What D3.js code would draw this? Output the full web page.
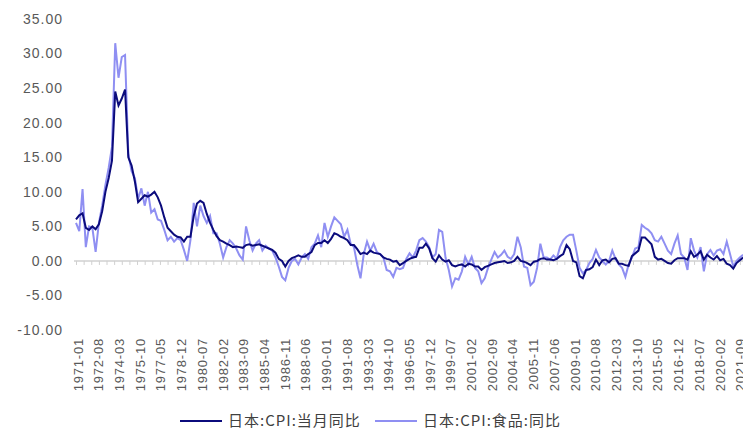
<!DOCTYPE html>
<html>
<head>
<meta charset="utf-8">
<script src="https://cdn.jsdelivr.net/npm/d3@7"></script>
<style>
  body { margin: 0; background: #fff; }
  .ylab { font-family: "Liberation Sans", Arial, sans-serif; font-size: 14px; fill: #595959; letter-spacing: 1px; }
  .xlab { font-family: "Liberation Sans", Arial, sans-serif; font-size: 13px; fill: #595959; letter-spacing: 0.8px; }
  .legend { font-family: "Noto Sans CJK SC", sans-serif; font-size: 15px; fill: #404040; letter-spacing: 1px; }
</style>
</head>
<body>
<div id="chart"></div>
<script>
// quarterly readings (Jan, Apr, Jul, Oct), starting 1971-01
var startYear = 1971;
var stepMonths = 3;

var cpiAll = [
  6.0, 6.6, 6.9, 4.8,   4.5, 5.0, 4.6, 5.3,   7.2, 10.0, 12.0, 14.5,
  24.5, 22.5, 23.5, 24.8,   15.0, 13.8, 11.5, 8.5,   9.0, 9.5, 9.3, 9.6,
  10.0, 9.2, 8.0, 6.3,   4.8, 4.3, 3.8, 3.5,   3.4, 2.8, 3.5, 3.5,
  6.5, 8.3, 8.7, 8.4,   6.8, 5.5, 4.5, 3.6,   3.0, 2.8, 2.5, 2.3,
  2.0, 2.1, 2.0, 1.9,   2.3, 2.4, 2.2, 2.3,   2.4, 2.2, 2.0, 1.8,
  1.6, 1.2, 0.3, 0.0,   -0.8, 0.0, 0.4, 0.6,   0.8, 0.6, 0.6, 1.0,
  1.3, 2.3, 2.6, 2.6,   3.0, 2.6, 3.2, 4.0,   3.8, 3.5, 3.3, 3.0,
  2.3, 2.3, 1.7, 1.0,   1.2, 1.0, 1.5, 1.2,   1.1, 1.0, 0.5, 0.3,
  0.2, -0.1, 0.0, -0.6,   -0.3, 0.0, 0.3, 0.5,   0.6, 1.9, 1.9, 2.5,
  1.8, 0.4, -0.1, 0.8,   0.2, -0.1, 0.1, -0.6,   -0.8, -0.6, -0.5, -0.8,
  -0.4, -0.5, -0.8, -0.8,   -1.3, -0.9, -0.7, -0.5,   -0.3, -0.2, -0.1, 0.0,
  -0.3, -0.2, 0.0, 0.6,   0.0, -0.1, -0.3, -0.6,   -0.1, 0.0, 0.3, 0.4,
  0.2, 0.2, 0.1, 0.3,   0.7, 1.0, 2.3, 1.7,   0.0, -0.2, -2.2, -2.5,
  -1.3, -1.2, -0.9, 0.2,   -0.6, 0.1, 0.2, -0.2,   0.3, 0.4, -0.4, -0.4,
  -0.6, -0.7, 0.7, 1.1,   1.5, 3.4, 3.4, 2.9,   2.4, 0.6, 0.2, 0.3,
  0.0, -0.3, -0.4, 0.1,   0.4, 0.4, 0.4, 0.2,   1.4, 0.6, 0.9, 1.4,
  0.2, 0.9, 0.5, 0.2,   0.7, 0.1, 0.3, -0.4,   -0.6, -1.1, -0.3, 0.1,
  0.5
];

var cpiFood = [
  5.5, 4.3, 10.4, 2.0,   5.0, 4.8, 1.3, 5.5,   8.0, 11.0, 13.5, 16.5,
  31.5, 26.5, 29.5, 29.8,   15.5, 13.0, 12.0, 9.0,   10.5, 8.0, 10.0, 7.0,
  7.5, 6.0, 5.8, 4.5,   3.0, 3.5, 2.8, 3.3,   3.0, 1.6, 0.0, 3.0,
  8.4, 5.0, 8.0, 6.5,   5.5, 6.5, 4.0, 4.0,   2.5, 0.5, 2.0, 3.0,
  2.5, 1.8, 0.8, 0.2,   5.0, 3.0, 1.5, 2.5,   3.0, 1.5, 2.2, 1.8,
  1.5, 0.5, -0.8, -2.3,   -2.8, -1.0, 0.0, 0.3,   -0.5, 0.5, 1.0, 0.3,
  2.0, 2.5, 3.7, 2.0,   5.5, 3.5, 5.0, 6.3,   5.8, 5.3, 3.5, 4.5,
  2.5, 2.0, -0.5, -2.5,   1.0, 2.8, 1.5, 2.5,   1.3, 1.0, 0.5, -1.3,
  -1.5, -2.3, -1.0, -1.2,   -1.0, 0.3, 1.1, 0.5,   1.5, 3.0, 3.3, 2.8,
  2.0, 0.5, 1.0, 4.5,   4.2, 0.5, -1.3, -3.7,   -2.5, -2.7, -1.5, 0.6,
  -0.5, 0.6, -1.0, -1.5,   -3.2, -2.5, -1.0, 0.2,   1.3, 0.5, 0.9, 1.5,
  0.6, 0.3, 1.0, 3.5,   2.0, -0.8, -1.0, -3.5,   -3.0, -1.0, 2.5, 0.5,
  0.5, 0.2, 0.8, 0.3,   2.0, 3.0, 3.5, 3.8,   3.8, 1.5, -1.0, -1.8,
  -1.3, -0.3, 0.3, 1.6,   0.5, 0.0, -0.5, 0.0,   1.5, 0.3, -0.5, -1.0,
  -2.3, -0.5, 0.5, 1.8,   2.0, 5.2, 4.8, 4.5,   4.0, 3.0, 2.8, 3.5,
  2.5, 1.5, 1.0, 2.5,   3.7, 1.0, 0.5, -1.3,   3.3, 1.5, 0.5, 2.0,
  -1.5, 1.0, 1.6, 0.8,   1.5, 1.7, 1.0, 2.8,   1.0, -0.8, 0.0, 0.5,
  0.9
];

var tickLabels = ['1971-01', '1972-08', '1974-03', '1975-10', '1977-05', '1978-12',
  '1980-07', '1982-02', '1983-09', '1985-04', '1986-11', '1988-06', '1990-01',
  '1991-08', '1993-03', '1994-10', '1996-05', '1997-12', '1999-07', '2001-02',
  '2002-09', '2004-04', '2005-11', '2007-06', '2009-01', '2010-08', '2012-03',
  '2013-10', '2015-05', '2016-12', '2018-07', '2020-02', '2021-09'];

var yTicks = [35, 30, 25, 20, 15, 10, 5, 0, -5, -10];
var seriesNames = ['日本:CPI:当月同比', '日本:CPI:食品:同比'];
var seriesColors = ['#0b0b7c', '#8f8ff2'];

function monthIndex(label) {
  var p = label.split('-');
  return (+p[0] - startYear) * 12 + (+p[1] - 1);
}

var width = 743, height = 430;
var svg = d3.select('#chart').append('svg')
  .attr('width', width)
  .attr('height', height);

var xScale = d3.scaleLinear()
  .domain([0, 612])
  .range([76, 743.1]);
var yScale = d3.scaleLinear()
  .domain([-10, 35])
  .range([330.1, 19]);

// y labels
svg.append('g').selectAll('text')
  .data(yTicks)
  .enter()
  .append('text')
  .attr('class', 'ylab')
  .attr('x', 63)
  .attr('y', function (d) { return yScale(d); })
  .attr('dy', '0.35em')
  .attr('text-anchor', 'end')
  .text(function (d) { return d.toFixed(2); });

// zero line with small ticks
var minorTicks = d3.range(0, 613, 7);
var zeroAxis = d3.axisBottom(xScale)
  .tickValues(minorTicks)
  .tickSize(4)
  .tickFormat('');
var zg = svg.append('g')
  .attr('transform', 'translate(0,' + yScale(0) + ')')
  .call(zeroAxis);
zg.select('.domain').attr('stroke', '#d0d0d0').attr('stroke-width', 1.5)
  .attr('d', 'M74,0H743');
zg.selectAll('.tick line').attr('stroke', '#d0d0d0');

// x labels
svg.append('g').selectAll('text')
  .data(tickLabels)
  .enter()
  .append('text')
  .attr('class', 'xlab')
  .attr('text-anchor', 'end')
  .attr('dy', '0.35em')
  .attr('transform', function (d) {
    return 'translate(' + (xScale(monthIndex(d)) + 2) + ',338)rotate(-90)';
  })
  .text(function (d) { return d; });

// lines
var line = d3.line()
  .x(function (d, i) { return xScale(i * stepMonths); })
  .y(function (d) { return yScale(d); });

svg.append('path')
  .datum(cpiFood)
  .attr('fill', 'none')
  .attr('stroke', seriesColors[1])
  .attr('stroke-width', 2)
  .attr('d', line);

svg.append('path')
  .datum(cpiAll)
  .attr('fill', 'none')
  .attr('stroke', seriesColors[0])
  .attr('stroke-width', 2)
  .attr('d', line);

// legend
var legendX = [180, 375];
seriesNames.forEach(function (name, i) {
  svg.append('line')
    .attr('x1', legendX[i])
    .attr('x2', legendX[i] + 42)
    .attr('y1', 421)
    .attr('y2', 421)
    .attr('stroke', seriesColors[i])
    .attr('stroke-width', 2);
  svg.append('text')
    .attr('class', 'legend')
    .attr('x', legendX[i] + 48)
    .attr('y', 421)
    .attr('dy', '0.35em')
    .text(name);
});
</script>
</body>
</html>
